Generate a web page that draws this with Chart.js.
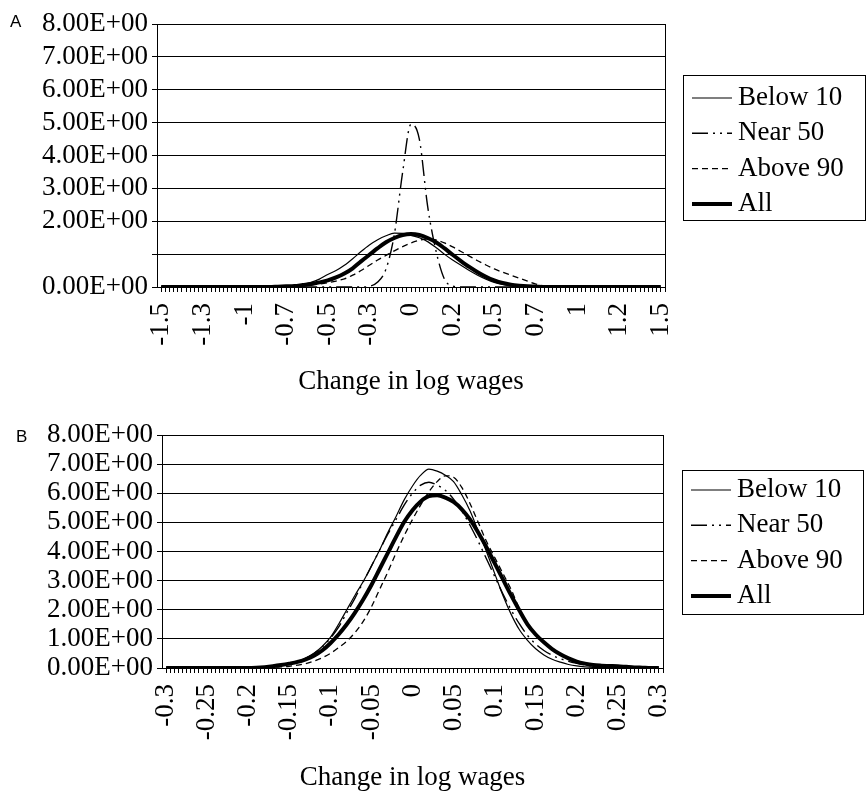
<!DOCTYPE html>
<html>
<head>
<meta charset="utf-8">
<script src="https://cdn.jsdelivr.net/npm/chart.js@4.4.1/dist/chart.umd.min.js"></script>
<style>
  body { margin: 0; background: #fff; }
  #wrap { position: relative; width: 866px; height: 796px; }
  canvas { position: absolute; left: 0; }
  #chartA { top: 0; }
  #chartB { top: 400px; }
</style>
</head>
<body>
<div id="wrap">
  <canvas id="chartA" width="866" height="400"></canvas>
  <canvas id="chartB" width="866" height="396"></canvas>
</div>
<script>
// ---- panel A: change in log wages, step 0.05 ----
const xA = [-1.5, -1.45, -1.4, -1.35, -1.3, -1.25, -1.2, -1.15, -1.1, -1.05,
  -1.0, -0.95, -0.9, -0.85, -0.8, -0.75, -0.7, -0.65, -0.6, -0.55,
  -0.5, -0.45, -0.4, -0.35, -0.3, -0.25, -0.2, -0.15, -0.1, -0.05,
  0, 0.05, 0.1, 0.15, 0.2, 0.25, 0.3, 0.35, 0.4, 0.45,
  0.5, 0.55, 0.6, 0.65, 0.7, 0.75, 0.8, 0.85, 0.9, 0.95,
  1.0, 1.05, 1.1, 1.15, 1.2, 1.25, 1.3, 1.35, 1.4, 1.45, 1.5];

const belowA = [0, 0, 0, 0, 0, 0, 0, 0, 0, 0,
  0, 0, 0, 0, 0.01, 0.02, 0.04, 0.08, 0.14, 0.24,
  0.38, 0.5, 0.66, 0.86, 1.08, 1.28, 1.44, 1.56, 1.64, 1.63,
  1.57, 1.5, 1.38, 1.2, 1.0, 0.82, 0.66, 0.5, 0.36, 0.24,
  0.14, 0.08, 0.04, 0.02, 0.01, 0, 0, 0, 0, 0,
  0, 0, 0, 0, 0, 0, 0, 0, 0, 0, 0];

const nearA = [0, 0, 0, 0, 0, 0, 0, 0, 0, 0,
  0, 0, 0, 0, 0, 0, 0, 0, 0, 0,
  0, 0, 0, 0, 0, 0.02, 0.15, 0.55, 1.6, 3.5,
  4.95, 4.5, 2.45, 1.1, 0.25, 0.03, 0, 0, 0, 0,
  0, 0, 0, 0, 0, 0, 0, 0, 0, 0,
  0, 0, 0, 0, 0, 0, 0, 0, 0, 0, 0];

const aboveA = [0, 0, 0, 0, 0, 0, 0, 0, 0, 0,
  0, 0, 0, 0, 0, 0.01, 0.02, 0.04, 0.06, 0.09,
  0.13, 0.18, 0.25, 0.36, 0.5, 0.66, 0.82, 0.96, 1.1, 1.23,
  1.34, 1.42, 1.46, 1.43, 1.34, 1.22, 1.08, 0.94, 0.8, 0.67,
  0.55, 0.45, 0.36, 0.27, 0.18, 0.09, 0.03, 0.01, 0, 0,
  0, 0, 0, 0, 0, 0, 0, 0, 0, 0, 0];

const allA = [0, 0, 0, 0, 0, 0, 0, 0, 0, 0,
  0, 0, 0, 0, 0.01, 0.02, 0.03, 0.06, 0.09, 0.14,
  0.2, 0.29, 0.41, 0.57, 0.78, 0.98, 1.18, 1.36, 1.49, 1.58,
  1.61, 1.58, 1.49, 1.36, 1.18, 0.98, 0.79, 0.61, 0.45, 0.31,
  0.2, 0.12, 0.07, 0.04, 0.02, 0.01, 0, 0, 0, 0,
  0, 0, 0, 0, 0, 0, 0, 0, 0, 0, 0];

const xLabelsA = ['-1.5', '-1.3', '-1', '-0.7', '-0.5', '-0.3', '0', '0.2', '0.5', '0.7', '1', '1.2', '1.5'];
const yLabelsA = ['0.00E+00', '', '2.00E+00', '3.00E+00', '4.00E+00', '5.00E+00', '6.00E+00', '7.00E+00', '8.00E+00'];

// ---- panel B: step 0.01 ----
const xB = [-0.3, -0.29, -0.28, -0.27, -0.26, -0.25, -0.24, -0.23, -0.22, -0.21,
  -0.2, -0.19, -0.18, -0.17, -0.16, -0.15, -0.14, -0.13, -0.12, -0.11,
  -0.1, -0.09, -0.08, -0.07, -0.06, -0.05, -0.04, -0.03, -0.02, -0.01,
  0, 0.01, 0.02, 0.03, 0.04, 0.05, 0.06, 0.07, 0.08, 0.09,
  0.1, 0.11, 0.12, 0.13, 0.14, 0.15, 0.16, 0.17, 0.18, 0.19,
  0.2, 0.21, 0.22, 0.23, 0.24, 0.25, 0.26, 0.27, 0.28, 0.29, 0.3];

const belowB = [0, 0, 0, 0, 0, 0, 0, 0, 0, 0,
  0, 0.02, 0.04, 0.07, 0.1, 0.15, 0.22, 0.33, 0.5, 0.74,
  1.05, 1.5, 2.0, 2.5, 2.97, 3.5, 4.05, 4.65, 5.2, 5.78,
  6.25, 6.62, 6.83, 6.76, 6.62, 6.4, 5.95, 5.4, 4.7, 4.0,
  3.25, 2.5, 1.85, 1.32, 0.95, 0.66, 0.45, 0.3, 0.2, 0.12,
  0.07, 0.04, 0.02, 0.01, 0, 0, 0, 0, 0, 0, 0];

const nearB = [0, 0, 0, 0, 0, 0, 0, 0, 0, 0,
  0, 0.01, 0.03, 0.06, 0.1, 0.15, 0.23, 0.34, 0.5, 0.72,
  1.02, 1.4, 1.9, 2.4, 2.95, 3.5, 4.05, 4.6, 5.1, 5.6,
  6.0, 6.28, 6.38, 6.28, 6.1, 5.8, 5.4, 4.9, 4.35, 3.75,
  3.15, 2.55, 2.0, 1.52, 1.12, 0.82, 0.6, 0.44, 0.32, 0.23,
  0.16, 0.1, 0.06, 0.03, 0.01, 0, 0, 0, 0, 0, 0];

const aboveB = [0, 0, 0, 0, 0, 0, 0, 0, 0, 0,
  0, 0, 0.01, 0.02, 0.04, 0.06, 0.1, 0.15, 0.24, 0.35,
  0.5, 0.7, 0.92, 1.22, 1.6, 2.1, 2.7, 3.3, 3.95, 4.55,
  5.1, 5.6, 6.05, 6.4, 6.6, 6.55, 6.2, 5.65, 5.0, 4.35,
  3.8, 3.25, 2.7, 2.05, 1.52, 1.15, 0.88, 0.65, 0.47, 0.33,
  0.22, 0.15, 0.1, 0.07, 0.05, 0.04, 0.02, 0.01, 0, 0, 0];

const allB = [0, 0, 0, 0, 0, 0, 0, 0, 0, 0,
  0, 0.01, 0.03, 0.06, 0.1, 0.15, 0.21, 0.3, 0.42, 0.6,
  0.85, 1.15, 1.5, 1.9, 2.35, 2.85, 3.4, 3.95, 4.5, 5.02,
  5.42, 5.72, 5.9, 5.93, 5.85, 5.7, 5.45, 5.1, 4.65, 4.15,
  3.6, 3.05, 2.5, 1.98, 1.5, 1.15, 0.88, 0.65, 0.47, 0.33,
  0.22, 0.15, 0.1, 0.08, 0.07, 0.06, 0.04, 0.02, 0.01, 0, 0];

const xLabelsB = ['-0.3', '-0.25', '-0.2', '-0.15', '-0.1', '-0.05', '0', '0.05', '0.1', '0.15', '0.2', '0.25', '0.3'];
const yLabelsB = ['0.00E+00', '1.00E+00', '2.00E+00', '3.00E+00', '4.00E+00', '5.00E+00', '6.00E+00', '7.00E+00', '8.00E+00'];

const seriesNames = ['Below 10', 'Near 50', 'Above 90', 'All'];

Chart.defaults.font.family = '"Liberation Serif", "Times New Roman", serif';
Chart.defaults.font.size = 27;
Chart.defaults.color = '#000';

// small tick marks: 10 per labelled interval
const TICKS_PER_LABEL = 10;

function minorTicks(first, last) {
  const out = [];
  const n = (xLabelsA.length - 1) * TICKS_PER_LABEL;
  for (let i = 0; i <= n; i++) {
    out.push({ value: first + (last - first) * i / n });
  }
  return out;
}

// frame edge, panel letter and boxed legend
const panelExtras = {
  id: 'panelExtras',
  afterDraw(chart, args, opts) {
    const ctx = chart.ctx;
    const area = chart.chartArea;
    ctx.save();
    ctx.strokeStyle = '#000';
    ctx.fillStyle = '#000';
    ctx.lineWidth = 1;
    const rx = Math.round(area.right) + 0.5;
    ctx.beginPath();
    ctx.moveTo(rx, area.top);
    ctx.lineTo(rx, area.bottom + 5);
    ctx.stroke();

    ctx.font = '17px "Liberation Sans", Arial, sans-serif';
    ctx.textBaseline = 'middle';
    ctx.textAlign = 'left';
    ctx.fillText(opts.letter, opts.letterX, opts.letterY);

    const lg = opts.legend;
    ctx.strokeRect(lg.x + 0.5, lg.y + 0.5, lg.w, lg.h);
    ctx.font = '27px "Liberation Serif", "Times New Roman", serif';
    chart.data.datasets.forEach((ds, i) => {
      const y = lg.y + lg.first + i * lg.row;
      ctx.save();
      ctx.lineWidth = ds.borderWidth;
      ctx.setLineDash(ds.borderDash || []);
      ctx.beginPath();
      ctx.moveTo(lg.x + 9, y);
      ctx.lineTo(lg.x + 49, y);
      ctx.stroke();
      ctx.restore();
      ctx.fillText(ds.label, lg.x + 55, y);
    });
    ctx.restore();
  }
};

function makeDatasets(xs, below, near, above, all) {
  const pts = (ys) => ys.map((y, i) => ({ x: xs[i], y: y }));
  const base = { borderColor: '#000', pointRadius: 0, fill: false, cubicInterpolationMode: 'monotone' };
  return [
    Object.assign({ label: seriesNames[0], data: pts(below), borderWidth: 1.2 }, base),
    Object.assign({ label: seriesNames[1], data: pts(near), borderWidth: 1.4, borderDash: [16, 5, 2, 5, 2, 5] }, base),
    Object.assign({ label: seriesNames[2], data: pts(above), borderWidth: 1.3, borderDash: [6, 4] }, base),
    Object.assign({ label: seriesNames[3], data: pts(all), borderWidth: 4 }, base)
  ];
}

function makeChart(id, cfg) {
  const xs = cfg.xs;
  const half = (xs[1] - xs[0]) / 2;
  return new Chart(document.getElementById(id), {
    type: 'line',
    data: { datasets: makeDatasets(xs, cfg.below, cfg.near, cfg.above, cfg.all) },
    plugins: [panelExtras],
    options: {
      responsive: false,
      animation: false,
      devicePixelRatio: 1,
      layout: { padding: cfg.padding },
      plugins: {
        legend: { display: false },
        tooltip: { enabled: false },
        panelExtras: cfg.extras
      },
      scales: {
        x: {
          type: 'linear',
          bounds: 'data',
          min: xs[0] - half,
          max: xs[xs.length - 1] + half,
          afterBuildTicks: (scale) => { scale.ticks = minorTicks(xs[0], xs[xs.length - 1]); },
          afterFit: (scale) => { scale.height = cfg.xHeight; },
          ticks: {
            autoSkip: false,
            minRotation: 90,
            maxRotation: 90,
            padding: 11,
            callback: (v, i) => (i % TICKS_PER_LABEL === 0 ? cfg.xLabels[i / TICKS_PER_LABEL] : '')
          },
          grid: { drawOnChartArea: false, color: '#000', tickLength: 5 },
          border: { color: '#000', width: 1 },
          title: { display: true, text: 'Change in log wages', padding: { top: 0, bottom: 2 } }
        },
        y: {
          min: 0,
          max: 8,
          afterFit: (scale) => { scale.width = cfg.yWidth; },
          ticks: { stepSize: 1, autoSkip: false, padding: 4, callback: (v) => cfg.yLabels[v] },
          grid: { color: '#000', tickLength: 5 },
          border: { color: '#000', width: 1 }
        }
      }
    }
  });
}

makeChart('chartA', {
  xs: xA, below: belowA, near: nearA, above: aboveA, all: allA,
  xLabels: xLabelsA, yLabels: yLabelsA,
  padding: { left: 0, top: 24, right: 201, bottom: 0 },
  yWidth: 157, xHeight: 113,
  extras: {
    letter: 'A', letterX: 10, letterY: 22,
    legend: { x: 683, y: 75, w: 182, h: 145, first: 23, row: 35.3 }
  }
});

makeChart('chartB', {
  xs: xB, below: belowB, near: nearB, above: aboveB, all: allB,
  xLabels: xLabelsB, yLabels: yLabelsB,
  padding: { left: 0, top: 35, right: 203, bottom: 0 },
  yWidth: 162, xHeight: 128,
  extras: {
    letter: 'B', letterX: 16, letterY: 37,
    legend: { x: 682, y: 70, w: 181, h: 144, first: 20, row: 35.3 }
  }
});
</script>
</body>
</html>
